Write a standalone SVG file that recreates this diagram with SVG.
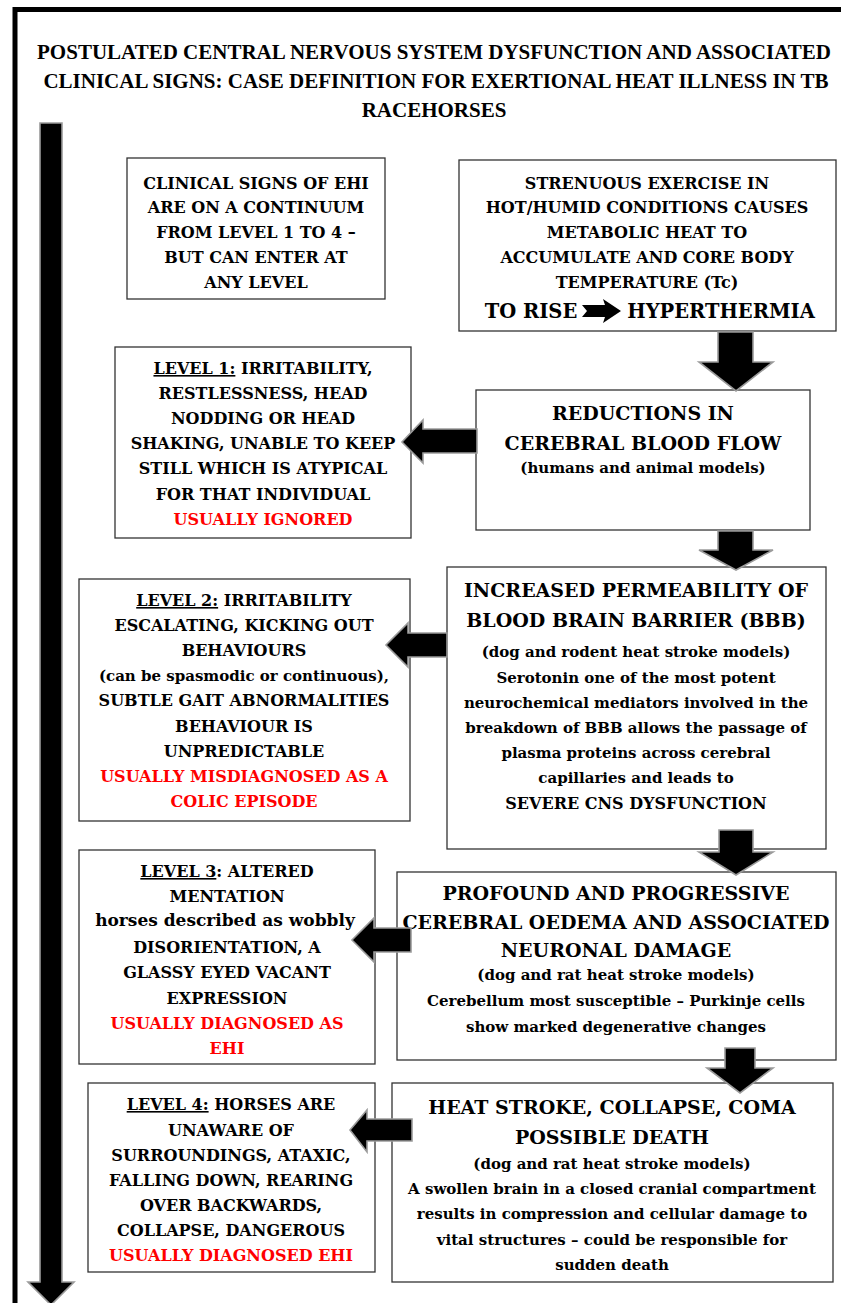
<svg xmlns="http://www.w3.org/2000/svg" width="841" height="1303" viewBox="0 0 841 1303">
<style>
.box{fill:#fff;stroke:#333;stroke-width:1.3}
.arr{fill:#000;stroke:#9a9a9a;stroke-width:1.6;stroke-linejoin:miter}
.t{font-family:"DejaVu Serif",serif;font-weight:bold;text-anchor:middle;fill:#000}
.ttl{font-family:"Liberation Serif",serif;font-weight:bold;font-size:21px;text-anchor:middle;fill:#000}
.c{font-size:16px}
.h{font-size:19px}
.l{font-size:15px}
.red{fill:#ff0000}
.u{text-decoration:underline}
</style>
<rect width="841" height="1303" fill="#fff"/>
<path d="M15,1303 V9.5 H841" fill="none" stroke="#000" stroke-width="5"/>
<g id="title">
<text class="ttl" x="434" y="59">POSTULATED CENTRAL NERVOUS SYSTEM DYSFUNCTION AND ASSOCIATED</text>
<text class="ttl" x="436" y="88">CLINICAL SIGNS: CASE DEFINITION FOR EXERTIONAL HEAT ILLNESS IN TB</text>
<text class="ttl" x="434" y="117">RACEHORSES</text>
</g>
<g id="nodeA">
<rect class="box" x="127" y="158" width="258" height="141"/>
<text class="t c" x="256" y="189">CLINICAL SIGNS OF EHI</text>
<text class="t c" x="256" y="213">ARE ON A CONTINUUM</text>
<text class="t c" x="256" y="238">FROM LEVEL 1 TO 4 –</text>
<text class="t c" x="256" y="263">BUT CAN ENTER AT</text>
<text class="t c" x="256" y="288">ANY LEVEL</text>
</g>
<g id="nodeB">
<rect class="box" x="459" y="160" width="377" height="171"/>
<text class="t c" x="647" y="189">STRENUOUS EXERCISE IN</text>
<text class="t c" x="647" y="213">HOT/HUMID CONDITIONS CAUSES</text>
<text class="t c" x="647" y="238">METABOLIC HEAT TO</text>
<text class="t c" x="647" y="263">ACCUMULATE AND CORE BODY</text>
<text class="t c" x="647" y="288">TEMPERATURE  (Tc)</text>
<text class="t" x="531" y="318" style="font-size:19.5px">TO RISE</text>
<path d="M582,305 L605,305 L603,299 L621,311 L603,323 L605,317 L582,317 L587,311 Z" fill="#000"/>
<text class="t" x="721" y="318" style="font-size:19.5px">HYPERTHERMIA</text>
</g>
<g id="nodeC">
<rect class="box" x="476" y="390" width="334" height="140"/>
<text class="t h" x="643" y="420">REDUCTIONS IN</text>
<text class="t h" x="643" y="450">CEREBRAL BLOOD FLOW</text>
<text class="t l" x="643" y="473">(humans and animal models)</text>
</g>
<g id="level1">
<rect class="box" x="115" y="347" width="296" height="191"/>
<text class="t c" x="263" y="374"><tspan class="u">LEVEL 1:</tspan> IRRITABILITY,</text>
<text class="t c" x="263" y="399">RESTLESSNESS, HEAD</text>
<text class="t c" x="263" y="424">NODDING OR HEAD</text>
<text class="t c" x="263" y="449">SHAKING, UNABLE TO KEEP</text>
<text class="t c" x="263" y="474">STILL WHICH IS ATYPICAL</text>
<text class="t c" x="263" y="500">FOR THAT INDIVIDUAL</text>
<text class="t c red" x="263" y="525">USUALLY IGNORED</text>
</g>
<g id="nodeD">
<rect class="box" x="447" y="567" width="379" height="282"/>
<text class="t h" x="636" y="597">INCREASED PERMEABILITY OF</text>
<text class="t h" x="636" y="627">BLOOD BRAIN BARRIER (BBB)</text>
<text class="t l" x="636" y="657">(dog and rodent heat stroke models)</text>
<text class="t l" x="636" y="683">Serotonin one of the most potent</text>
<text class="t l" x="636" y="708">neurochemical mediators involved in the</text>
<text class="t l" x="636" y="733">breakdown of BBB allows the passage of</text>
<text class="t l" x="636" y="758">plasma proteins across cerebral</text>
<text class="t l" x="636" y="783">capillaries and leads to</text>
<text class="t c" x="636" y="809">SEVERE CNS DYSFUNCTION</text>
</g>
<g id="level2">
<rect class="box" x="79" y="579" width="331" height="242"/>
<text class="t c" x="244" y="606"><tspan class="u">LEVEL 2:</tspan> IRRITABILITY</text>
<text class="t c" x="244" y="631">ESCALATING, KICKING OUT</text>
<text class="t c" x="244" y="656">BEHAVIOURS</text>
<text class="t l" x="244" y="681">(can be spasmodic or continuous),</text>
<text class="t c" x="244" y="706">SUBTLE GAIT ABNORMALITIES</text>
<text class="t c" x="244" y="732">BEHAVIOUR IS</text>
<text class="t c" x="244" y="757">UNPREDICTABLE</text>
<text class="t c red" x="244" y="782">USUALLY MISDIAGNOSED AS A</text>
<text class="t c red" x="244" y="807">COLIC EPISODE</text>
</g>
<g id="nodeE">
<rect class="box" x="397" y="872" width="439" height="188"/>
<text class="t h" x="616" y="900">PROFOUND AND PROGRESSIVE</text>
<text class="t h" x="616" y="929">CEREBRAL OEDEMA AND ASSOCIATED</text>
<text class="t h" x="616" y="957">NEURONAL DAMAGE</text>
<text class="t l" x="616" y="980">(dog and rat heat stroke models)</text>
<text class="t l" x="616" y="1006">Cerebellum most susceptible – Purkinje cells</text>
<text class="t l" x="616" y="1032">show marked degenerative changes</text>
</g>
<g id="level3">
<rect class="box" x="79" y="850" width="296" height="214"/>
<text class="t c" x="227" y="877"><tspan class="u">LEVEL 3</tspan>: ALTERED</text>
<text class="t c" x="227" y="902">MENTATION</text>
<text class="t" x="225" y="926" style="font-size:17px">horses described as wobbly</text>
<text class="t c" x="227" y="953">DISORIENTATION, A</text>
<text class="t c" x="227" y="978">GLASSY EYED VACANT</text>
<text class="t c" x="227" y="1004">EXPRESSION</text>
<text class="t c red" x="227" y="1029">USUALLY DIAGNOSED AS</text>
<text class="t c red" x="227" y="1054">EHI</text>
</g>
<g id="nodeF">
<rect class="box" x="392" y="1083" width="441" height="199"/>
<text class="t h" x="612" y="1114">HEAT STROKE, COLLAPSE, COMA</text>
<text class="t h" x="612" y="1144">POSSIBLE DEATH</text>
<text class="t l" x="612" y="1169">(dog and rat heat stroke models)</text>
<text class="t l" x="612" y="1194">A swollen brain in a closed cranial compartment</text>
<text class="t l" x="612" y="1219">results in compression and cellular damage to</text>
<text class="t l" x="612" y="1245">vital structures – could be responsible for</text>
<text class="t l" x="612" y="1270">sudden death</text>
</g>
<g id="level4">
<rect class="box" x="88" y="1083" width="287" height="189"/>
<text class="t c" x="231" y="1110"><tspan class="u">LEVEL 4:</tspan> HORSES ARE</text>
<text class="t c" x="231" y="1136">UNAWARE OF</text>
<text class="t c" x="231" y="1161">SURROUNDINGS, ATAXIC,</text>
<text class="t c" x="231" y="1186">FALLING DOWN, REARING</text>
<text class="t c" x="231" y="1211">OVER BACKWARDS,</text>
<text class="t c" x="231" y="1236">COLLAPSE, DANGEROUS</text>
<text class="t c red" x="231" y="1261">USUALLY DIAGNOSED EHI</text>
</g>
<g id="connectors">
<path class="arr" d="M40,123 H62 V1282 H74 L51,1305 L28,1282 H40 Z"/>
<path class="arr" d="M718,332 H753 V362 H773 L736,391 L699,362 H718 Z"/>
<path class="arr" d="M718,531 H753 V550 H773 L736,570 L699,550 H718 Z"/>
<path class="arr" d="M719,830 H753 V852 H773 L736,875 L699,852 H719 Z"/>
<path class="arr" d="M725,1048 H755 V1068 H773 L740,1093 L707,1068 H725 Z"/>
<path class="arr" d="M477,429 V453 H423 V463 L402,442 L423,420 V429 Z"/>
<path class="arr" d="M447,633 V657 H408 V667 L386,645 L408,623 V633 Z"/>
<path class="arr" d="M411,928 V952 H374 V962 L352,940 L374,918 V928 Z"/>
<path class="arr" d="M412,1119 V1141 H367 V1152 L350,1130 L367,1110 V1119 Z"/>
</g>
</svg>
